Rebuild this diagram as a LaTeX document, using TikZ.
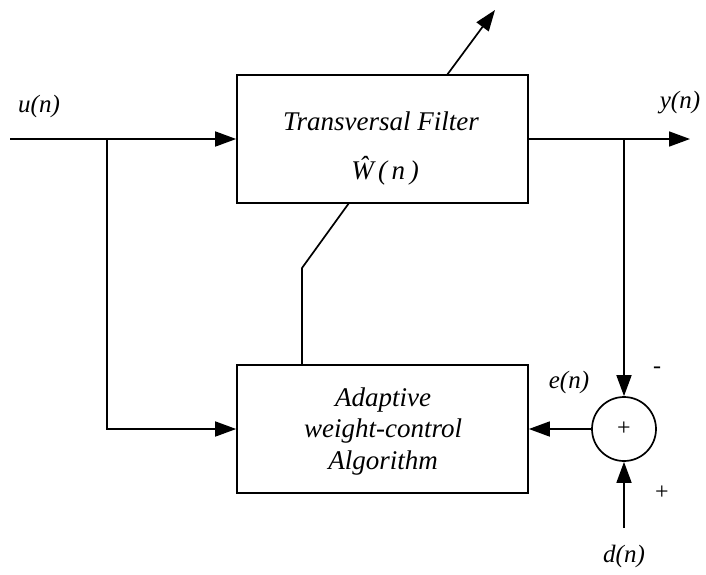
\documentclass[tikz,border=0pt]{standalone}
\usepackage{fontspec}
\setmainfont{Liberation Serif}
\usetikzlibrary{arrows.meta}
\begin{document}
\begin{tikzpicture}[x=1pt,y=-1pt, line width=1.7pt,
  blk/.style={draw, rectangle, inner sep=0pt, minimum width=291pt, minimum height=128pt},
  boxtext/.style={font=\fontsize{27}{31.5}\itshape\selectfont, inner sep=0pt},
  lbl/.style={font=\fontsize{25}{28}\itshape\selectfont, inner sep=0pt},
  sign/.style={font=\fontsize{24}{28}\selectfont, inner sep=0pt},
  >={Triangle[length=21pt,width=15pt]}]
\useasboundingbox (0,0) rectangle (706,574);

% blocks
\node[blk] (tf) at (382.5,139) {};
\node[blk] (aw) at (382.5,429) {};
\node[draw, circle, minimum size=64pt, inner sep=0pt] (sum) at (624,429) {};

% block texts
\node[boxtext, anchor=base] (tft) at (381,130) {Transversal Filter};
\node[boxtext, anchor=base] (tfw) at (385,179) {Ŵ\,(\,n\,)};
\node[boxtext, align=center] (awt) at (383,431) {Adaptive\\weight-control\\Algorithm};
\node[sign] (plus) at (624,429) {+};

% signal labels
\node[lbl] (u) at (39,106) {u(n)};
\node[lbl] (y) at (680,103) {y(n)};
\node[lbl] (e) at (569,382) {e(n)};
\node[lbl] (d) at (624,556) {d(n)};
\node[sign] (minus) at (657,370) {-};
\node[sign] (pd) at (662,493) {+};

% junctions and free ends
\coordinate (in) at (10,139);
\coordinate (j1) at (107,139);
\coordinate (c1) at (107,429);
\coordinate (j2) at (624,139);
\coordinate (out) at (690,139);
\coordinate (dn) at (624,528);
\coordinate (k1) at (349,203);
\coordinate (k2) at (302,268);
\coordinate (k3) at (302,365);
\coordinate (t1) at (447,75);
\coordinate (t2) at (495,10);

% connectors
\draw[->] (in) -- (tf.west);
\draw[->] (j1) -- (c1) -- (aw.west |- c1);
\draw[->] (tf.east) -- (out);
\draw[->] (j2) -- (sum.north);
\draw[->] (sum.west) -- (aw.east |- sum);
\draw[->] (dn) -- (sum.south);
\draw (k1) -- (k2) -- (k3);
\draw[->] (t1) -- (t2);
\end{tikzpicture}
\end{document}
